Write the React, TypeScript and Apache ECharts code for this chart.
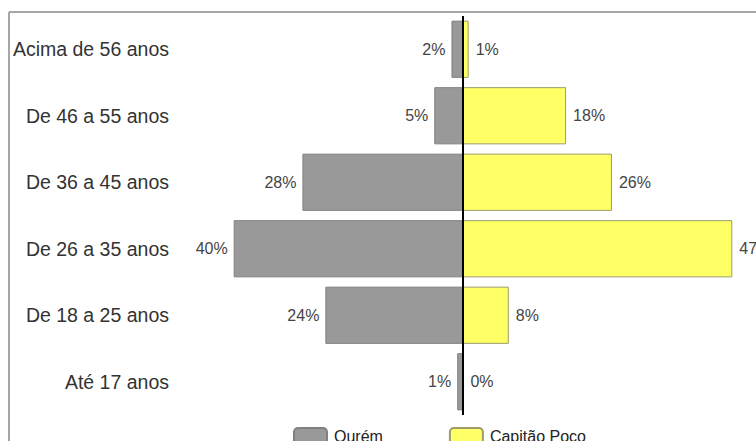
import React, { useEffect, useRef } from "react";
import * as echarts from "echarts";

const categories = [
  "Acima de 56 anos",
  "De 46 a 55 anos",
  "De 36 a 45 anos",
  "De 26 a 35 anos",
  "De 18 a 25 anos",
  "Até 17 anos",
];
const ourem = [2, 5, 28, 40, 24, 1];
const capitaoPoco = [1, 18, 26, 47, 8, 0];
const seriesNames = ["Ourém", "Capitão Poço"];

const FONT = "'Liberation Sans', Arial, sans-serif";

export default function App() {
  const ref = useRef<HTMLDivElement>(null);
  useEffect(() => {
    if (!ref.current) return;
    const chart = echarts.init(ref.current, null, { renderer: "svg" });
    chart.setOption({
      animation: false,
      textStyle: { fontFamily: FONT },
      grid: { left: 205, right: 6.5, top: 16, bottom: 26, containLabel: false },
      xAxis: {
        type: "value",
        min: -45,
        max: 50,
        show: false,
      },
      yAxis: {
        type: "category",
        data: categories,
        inverse: true,
        axisLine: { show: false },
        axisTick: { show: false },
        splitLine: { show: false },
        axisLabel: {
          margin: 36,
          fontSize: 19.5,
          color: "#333333",
          fontFamily: FONT,
        },
      },
      legend: {
        data: seriesNames,
        left: 293,
        top: 427,
        padding: 0,
        itemWidth: 33,
        itemHeight: 16,
        itemGap: 66,
        textStyle: { fontSize: 16, color: "#222222", fontFamily: FONT, padding: [0, 0, 0, 2] },
      },
      graphic: [
        {
          type: "line",
          shape: { x1: 9, y1: 12, x2: 760, y2: 12 },
          style: { stroke: "#a6a6a6", lineWidth: 2 },
        },
        {
          type: "line",
          shape: { x1: 9, y1: 12, x2: 9, y2: 445 },
          style: { stroke: "#a6a6a6", lineWidth: 2 },
        },
      ],
      series: [
        {
          name: seriesNames[0],
          type: "bar",
          barGap: "-100%",
          barCategoryGap: "14%",
          data: ourem.map((v) => -v),
          itemStyle: { color: "#999999", borderColor: "#808080", borderWidth: 1 },
          label: {
            show: true,
            position: "left",
            distance: 6,
            fontSize: 16,
            color: "#444444",
            fontFamily: FONT,
            formatter: (p: any) => `${ourem[p.dataIndex]}%`,
          },
          markLine: {
            silent: true,
            symbol: "none",
            label: { show: false },
            lineStyle: { color: "#000000", width: 2, type: "solid" },
            data: [{ xAxis: 0 }],
          },
        },
        {
          name: seriesNames[1],
          type: "bar",
          barGap: "-100%",
          barCategoryGap: "14%",
          data: capitaoPoco,
          itemStyle: { color: "#ffff66", borderColor: "#9c9c6a", borderWidth: 1 },
          label: {
            show: true,
            position: "right",
            distance: 7,
            fontSize: 16,
            color: "#444444",
            fontFamily: FONT,
            formatter: (p: any) => `${capitaoPoco[p.dataIndex]}%`,
          },
        },
      ],
    });
    return () => chart.dispose();
  }, []);
  return (
    <div
      ref={ref}
      style={{ position: "absolute", left: 0, top: 0, width: 756, height: 441, background: "#ffffff" }}
    />
  );
}
